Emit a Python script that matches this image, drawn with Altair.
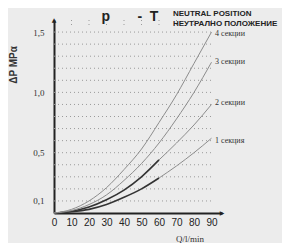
import altair as alt
import pandas as pd

# Flow Q (l/min)
q_vals = [0, 10, 20, 30, 40, 50, 60, 70, 80, 90]
# Pressure drop ΔP (MPa) per number of sections
sec1 = [0, 0.01, 0.03, 0.07, 0.13, 0.20, 0.29, 0.39, 0.50, 0.62]
sec2 = [0, 0.015, 0.05, 0.11, 0.19, 0.30, 0.44, 0.58, 0.73, 0.90]
sec3 = [0, 0.02, 0.07, 0.15, 0.27, 0.41, 0.58, 0.78, 1.00, 1.25]
sec4 = [0, 0.03, 0.10, 0.21, 0.36, 0.53, 0.75, 0.98, 1.24, 1.50]
dark_until = [60, 60, -1, -1]  # solid dark part of each curve

section_names = ["1 секция", "2 секции", "3 секции", "4 секции"]
label_x = [92, 92, 92, 92]
label_y = [0.60, 0.91, 1.25, 1.48]

x_grid = [10, 20, 30, 40, 50, 60, 70, 80, 90]
y_grid = [round(0.1 * i, 1) for i in range(1, 16)]
y_ticks = [0.1, 0.5, 1.0, 1.5]

rows = []
for si, ser in enumerate([sec1, sec2, sec3, sec4]):
    for q, p in zip(q_vals, ser):
        if q <= dark_until[si]:
            rows.append({"q": q, "p": p, "seg": f"s{si}d", "style": "dark"})
        if q >= dark_until[si]:
            rows.append({"q": q, "p": p, "seg": f"s{si}l", "style": "light"})
df = pd.DataFrame(rows)

X = alt.Scale(domain=[0, 96], nice=False, zero=False)
Y = alt.Scale(domain=[0, 1.6], nice=False, zero=False)
XAX = alt.Axis(values=q_vals, title=None, grid=False, ticks=False,
               domainColor="#222", domainWidth=2, labelOverlap=False,
               labelFlush=False, labelBound=False, labelFont="Liberation Sans",
               labelFontSize=10, labelColor="#222", labelPadding=4)
YAX = alt.Axis(values=y_ticks, title=None, grid=False, ticks=False,
               domainColor="#222", domainWidth=2, labelOverlap=False,
               labelFont="Liberation Serif", labelFontSize=9, labelColor="#333",
               labelPadding=10,
               labelExpr="replace(format(datum.value, '.1f'), '.', ',')")


def xq():
    return alt.X("q:Q", scale=X, axis=XAX)


def yp():
    return alt.Y("p:Q", scale=Y, axis=YAX)


vgrid = alt.Chart(pd.DataFrame({"q": x_grid})).mark_rule(
    color="#9a9a9a", strokeDash=[1, 3], strokeWidth=1
).encode(x=xq(), y=alt.value(0), y2=alt.value(193 - 1.55 / 1.6 * 193))

hgrid = alt.Chart(pd.DataFrame({"p": y_grid})).mark_rule(
    color="#9a9a9a", strokeDash=[1, 3], strokeWidth=1
).encode(y=yp(), x=alt.value(0), x2=alt.value(90 / 96 * 168))

arrows = alt.Chart(pd.DataFrame({"q": [0, 96], "p": [1.6, 0],
                                 "g": ["\u25b2", "\u25b6"]})).mark_text(
    font="DejaVu Sans", fontSize=6, color="#222", align="center", baseline="middle"
).encode(x=xq(), y=yp(), text="g:N")

curves = alt.Chart(df).mark_line(interpolate="monotone").encode(
    x=xq(),
    y=yp(),
    detail="seg:N",
    color=alt.Color("style:N", scale=alt.Scale(domain=["dark", "light"], range=["#333333", "#8c8c8c"]), legend=None),
    strokeWidth=alt.StrokeWidth("style:N", scale=alt.Scale(domain=["dark", "light"], range=[1.6, 1.0]), legend=None),
)

labels = alt.Chart(pd.DataFrame({"q": label_x, "p": label_y, "t": section_names})).mark_text(
    align="left", baseline="middle", font="Liberation Serif", fontSize=8, color="#333"
).encode(x=xq(), y=yp(), text="t:N")

NB = "\u00a0"
title_text = "p" + NB * 7 + "-" + NB * 2 + "T"
title_t = alt.Chart(pd.DataFrame({"t": [title_text]})).mark_text(
    align="center", baseline="alphabetic",
    font="Liberation Sans", fontSize=14, fontWeight="bold", color="#222").encode(
    x=alt.value(76), y=alt.value(1), text="t:N")
sub_t = alt.Chart(pd.DataFrame({"t": ["NEUTRAL POSITION", "НЕУТРАЛНО ПОЛОЖЕНИЕ"],
                                "yy": [-4, 6]})).mark_text(
    align="left", baseline="alphabetic",
    font="Liberation Sans", fontSize=8, fontWeight="bold", color="#222").encode(
    x=alt.value(119), y=alt.Y("yy:Q", scale=None), text="t:N")

ytitle = alt.Chart(pd.DataFrame({"t": ["ΔP MPα"]})).mark_text(
    angle=270, align="center", baseline="middle", font="Liberation Sans",
    fontSize=10, fontWeight="bold", color="#333"
).encode(x=alt.value(-40), y=alt.value(45), text="t:N")

xtitle = alt.Chart(pd.DataFrame({"t": ["Q/l/min"]})).mark_text(
    align="center", baseline="middle", font="Liberation Serif",
    fontSize=9, color="#333"
).encode(x=alt.value(136), y=alt.value(219), text="t:N")

chart = alt.layer(vgrid, hgrid, curves, arrows, labels,
                  title_t, sub_t, ytitle, xtitle).properties(
    width=168, height=193,
    autosize=alt.AutoSizeParams(type="none"),
    padding={"left": 46, "top": 12, "right": 60, "bottom": 30},
    background="#ececec",
).configure_view(stroke=None)

chart.save("out.html", embed_options={"renderer": "svg", "actions": False})
